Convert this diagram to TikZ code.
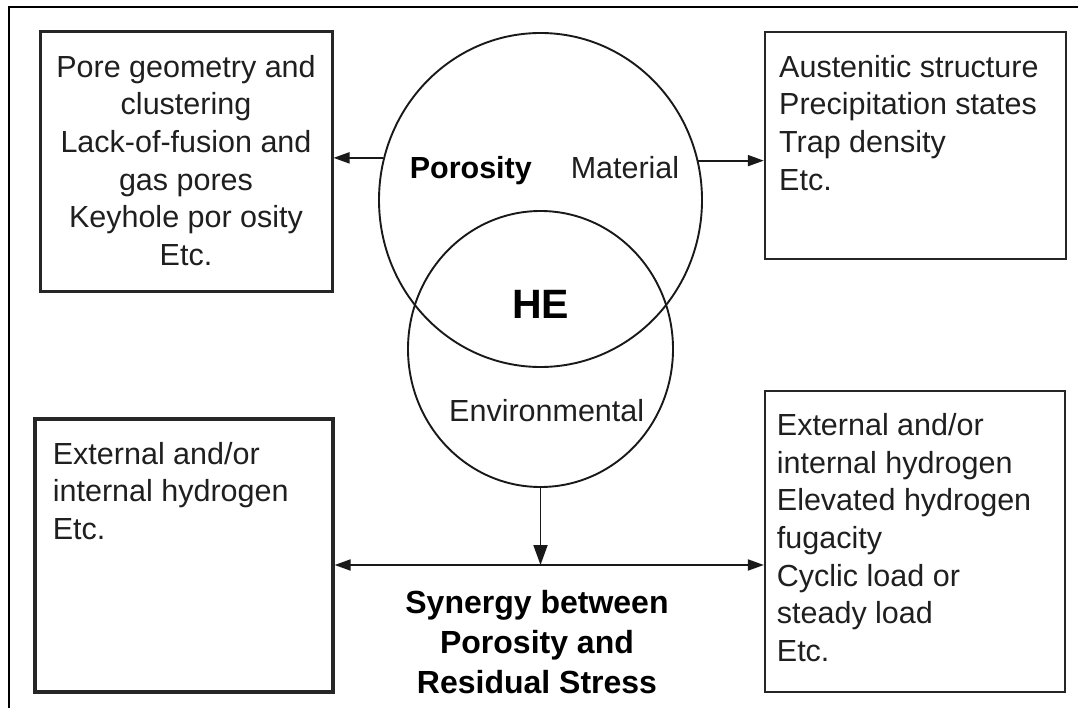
\documentclass[tikz,border=0pt]{standalone}
\usepackage{fontspec}
\setmainfont{Liberation Sans}
\usetikzlibrary{arrows.meta,shapes.geometric,calc}
\begin{document}
\begin{tikzpicture}[x=1pt,y=-1pt,
  frame/.style={line width=2pt, draw=black},
  box/.style={draw=black!85, rectangle, inner sep=0pt},
  circ/.style={draw=black!90, ellipse, inner sep=0pt, line width=1.9pt},
  txt/.style={inner sep=0pt, text=black!88, font=\fontsize{30.5}{37.6}\selectfont},
  btxt/.style={inner sep=0pt, text=black, font=\bfseries\fontsize{30.5}{37.6}\selectfont},
  arr/.style={line width=1.9pt, draw=black!90, -{Triangle[length=16pt,width=11pt]}},
  darr/.style={line width=1.9pt, draw=black!90, {Triangle[length=16pt,width=11pt]}-{Triangle[length=16pt,width=11pt]}},
  varr/.style={line width=1.9pt, draw=black!90, -{Triangle[length=20pt,width=14pt]}}
]
\useasboundingbox (0,0) rectangle (1078,708);
% outer frame (only top and left visible)
\coordinate (fbl) at (9,708);
\coordinate (ftl) at (9,7);
\coordinate (ftr) at (1078,7);
\draw[frame] (fbl) -- (ftl) -- (ftr);

% boxes
\node[box, line width=3pt, minimum width=292, minimum height=260] (tl) at (186,162) {};
\node[box, line width=2.4pt, minimum width=301, minimum height=227] (tr) at (915.5,145.5) {};
\node[box, line width=3.2pt, minimum width=298, minimum height=273] (bl) at (184,555.5) {};
\node[box, line width=2.2pt, minimum width=300, minimum height=301] (br) at (915,541.5) {};

% circles
\node[circ, minimum width=323, minimum height=334] (mat) at (540.5,200) {};
\node[circ, minimum width=265, minimum height=276] (env) at (540.5,349) {};

% box texts
\node[txt, anchor=north, align=center] (tlt) at (186,55)
  {Pore geometry and\\clustering\\Lack-of-fusion and\\gas pores\\Keyhole por osity\\Etc.};
\node[txt, anchor=north west, align=left] (trt) at (779,55)
  {Austenitic structure\\Precipitation states\\Trap density\\Etc.};
\node[txt, anchor=north west, align=left] (blt) at (52.7,441.7)
  {External and/or\\internal hydrogen\\Etc.};
\node[txt, anchor=north west, align=left] (brt) at (776.7,413.3)
  {External and/or\\internal hydrogen\\Elevated hydrogen\\fugacity\\Cyclic load or\\steady load\\Etc.};

% circle labels
\node[btxt, anchor=base] (por) at (470.8,178.3) {Porosity};
\node[txt, anchor=base] (matl) at (625,178.3) {Material};
\node[inner sep=0pt, anchor=base, font=\bfseries\fontsize{41}{45}\selectfont] (he) at (540.8,318.3) {HE};
\node[txt, anchor=base] (envl) at (546.7,421.7) {Environmental};
\node[inner sep=0pt, anchor=north, align=center, font=\bfseries\fontsize{32}{40}\selectfont] (syn) at (537,590)
  {Synergy between\\Porosity and\\Residual Stress};

% connectors
\draw[arr] (mat.165.7) -- (mat.165.7 -| tl.east);
\draw[arr] (mat.14.3) -- (mat.14.3 -| tr.west);
\coordinate (hy) at (540.5,565);
\draw[darr] (hy -| bl.east) -- (hy -| br.west);
\draw[varr] (env.south) -- (hy);
\end{tikzpicture}
\end{document}
